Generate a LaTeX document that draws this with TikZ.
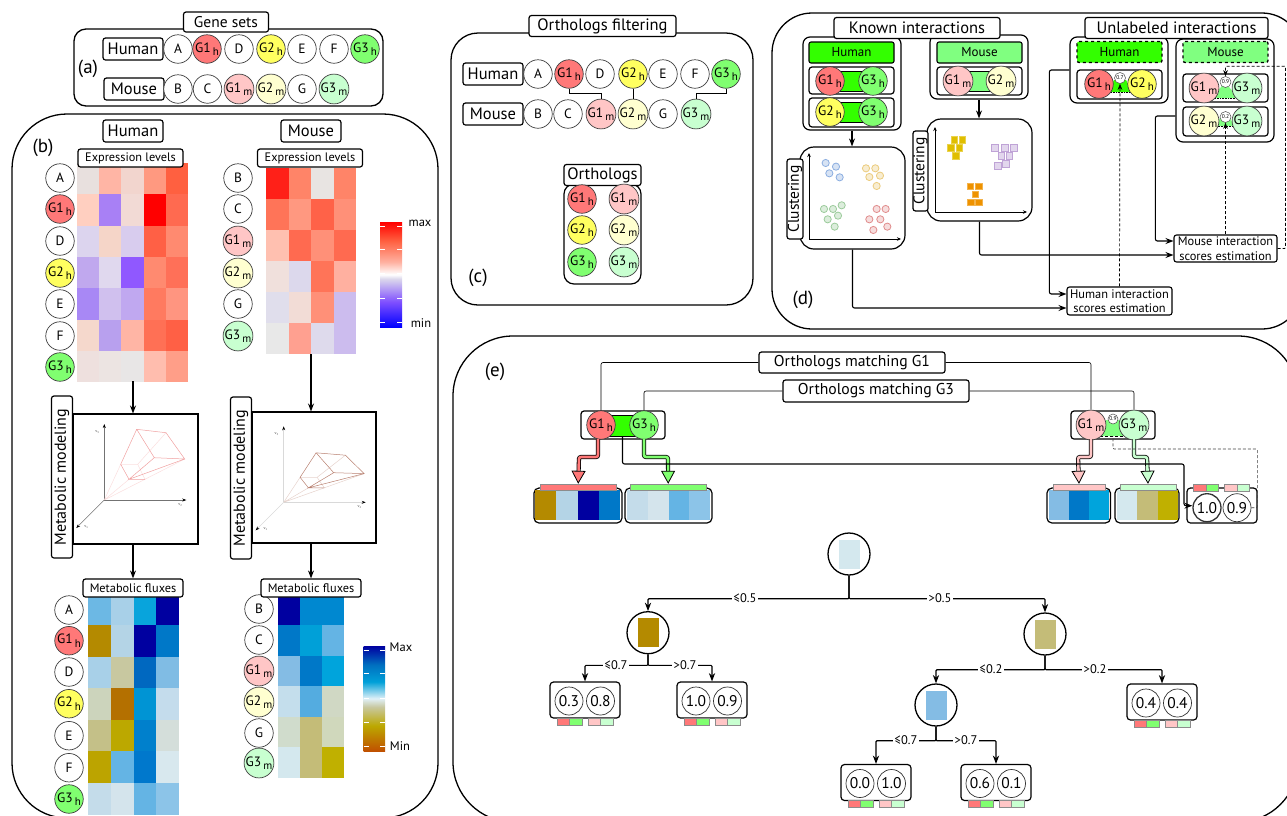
\documentclass[tikz,border=0pt]{standalone}
\usepackage{fontspec}
\usepackage{xcolor}
\usetikzlibrary{arrows.meta, positioning, calc, shapes.geometric}
\setmainfont{PT Sans}
\definecolor{hgone}{HTML}{FF7878}
\definecolor{hgtwo}{HTML}{FFFF60}
\definecolor{hgthree}{HTML}{80FF70}
\definecolor{mgone}{HTML}{FFC6C6}
\definecolor{mgtwo}{HTML}{FFFFD0}
\definecolor{mgthree}{HTML}{C8FFD0}
\definecolor{humanband}{HTML}{33FF00}
\definecolor{mouseband}{HTML}{80FF80}
\definecolor{polyhuman}{HTML}{F0A0A0}
\definecolor{polymouse}{HTML}{B88070}
\definecolor{rootfill}{HTML}{D4E8EE}
\definecolor{leftfill}{HTML}{B48A00}
\definecolor{rightfill}{HTML}{C4BC78}
\definecolor{lowfill}{HTML}{84BCE4}
\definecolor{exa}{HTML}{8050FF}
\definecolor{exb}{HTML}{DCD8EC}
\definecolor{exc}{HTML}{FFB0A0}
\definecolor{exd}{HTML}{FF6040}
\definecolor{fxa}{HTML}{C05000}
\definecolor{fxb}{HTML}{BCA800}
\definecolor{fxc}{HTML}{C8C8A0}
\definecolor{fxd}{HTML}{E0F0F8}
\definecolor{fxe}{HTML}{00A0D8}
\definecolor{fxf}{HTML}{0070C0}
\definecolor{fxg}{HTML}{0000A0}
\definecolor{dotblue}{HTML}{8CAEE0}
\definecolor{dotyellow}{HTML}{EBCB7C}
\definecolor{dotgreen}{HTML}{9CCB9C}
\definecolor{dotred}{HTML}{E08C8C}
\definecolor{sqyellow}{HTML}{E0BE00}
\definecolor{sqpurple}{HTML}{BFA3D6}
\definecolor{sqorange}{HTML}{EE9200}
\pgfdeclareverticalshading{exprbar}{100bp}{color(0bp)=(blue); color(25bp)=(blue);
  color(37bp)=(exa); color(48bp)=(exb); color(50bp)=(white);
  color(56bp)=(exc); color(66bp)=(exd); color(75bp)=(red); color(100bp)=(red)}
\pgfdeclareverticalshading{fluxbar}{100bp}{color(0bp)=(fxa); color(25bp)=(fxa);
  color(37bp)=(fxb); color(46bp)=(fxc); color(50bp)=(fxd);
  color(58bp)=(fxe); color(66bp)=(fxf); color(75bp)=(fxg); color(100bp)=(fxg)}
\newcommand{\gh}[1]{G#1\,\raisebox{-3.5pt}{\fontsize{11}{11}\selectfont h}}
\newcommand{\gm}[1]{G#1\,\raisebox{-3.5pt}{\fontsize{11}{11}\selectfont m}}
\newcommand{\heatmap}[5]{%
  \foreach \rowlist [count=\rw from 0] in {#5} {
    \foreach \hex [count=\cl from 0] in \rowlist {
      \definecolor{cellcol}{HTML}{\hex}
      \fill[cellcol] (#1+\cl*#3,#2+\rw*#4) rectangle ++(#3+.3,#4+.3);
    }
  }}
\newcommand{\polytope}[6]{%
  \draw[#5, line width=.5pt, -{Stealth[black,length=4pt,width=3pt]}] (#2,#3) -- ++(0,-76);
  \draw[#5, line width=.8pt, -{Stealth[black,length=4pt,width=3pt]}] (#2,#3) -- ++(82,0);
  \draw[#5, line width=.5pt, -{Stealth[black,length=4pt,width=3pt]}] (#2,#3) -- ++(-28,28);
  \node[vlabel] (#1vthree) at (#2-7,#3-68) {v\textsubscript{3}};
  \node[vlabel] (#1vtwo) at (#2+76,#3+5) {v\textsubscript{2}};
  \node[vlabel] (#1vone) at (#2-18,#3+27) {v\textsubscript{1}};
  \begin{scope}[shift={(#2,#3)}, yscale=#4, line width=.5pt]
    \draw[#6!35] (0,0) -- (16.4,-35.7) (0,0) -- (24.7,-20.7) (0,0) -- (40.7,-20.7) (0,0) -- (80.4,-41)
      (33.4,-35.7) -- (61.7,-67.3) (16.4,-35.7) -- (33.4,-35.7) -- (40.7,-20.7);
    \draw[#6] (32.4,-70.7) -- (61.7,-67.3) -- (80.4,-41) -- (50,-42.3) -- cycle
      (32.4,-70.7) -- (16.4,-35.7) -- (24.7,-20.7) -- (40.7,-20.7)
      (50,-42.3) -- (24.7,-20.7) -- (80.4,-41);
  \end{scope}}
\newcommand{\tagbars}[3]{%
  \node[tagcell=hgone] (#1ta) at (#2-22,#3) {};
  \node[tagcell=hgthree] (#1tb) at (#2-9.5,#3) {};
  \node[tagcell=mgone] (#1tc) at (#2+9,#3) {};
  \node[tagcell=mgthree] (#1td) at (#2+21.5,#3) {};}
\newcommand{\leafnode}[5]{%
  \node[leafbox] (#1) at (#2,#3) {};
  \node[scorenode] (#1a) at (#2-16,#3+1) {#4};
  \node[scorenode] (#1b) at (#2+15.5,#3+1) {#5};
  \tagbars{#1}{#2}{#3+21.5}}

\begin{document}
\begin{tikzpicture}[x=1pt, y=-1pt, >=Stealth,
    panel/.style={rectangle, draw, line width=1.3pt, inner sep=0pt},
    titlebox/.style={rectangle, rounded corners=2.5pt, draw, fill=white, line width=1.2pt, inner sep=0pt,
      minimum height=22pt, font=\fontsize{16.5}{16.5}\selectfont},
    smallbox/.style={titlebox, minimum height=18pt, font=\fontsize{12.3}{12.3}\selectfont},
    holder/.style={rectangle, rounded corners=7pt, draw, line width=1.2pt, inner sep=0pt},
    pairbox/.style={rectangle, rounded corners=3pt, draw, line width=1.2pt, inner sep=0pt, minimum width=85pt},
    gene/.style={circle, draw=black!75, fill=#1, line width=.7pt, inner sep=0pt, minimum size=28.5pt,
      font=\fontsize{13.5}{13.5}\selectfont},
    gene/.default=white,
    species/.style={rectangle, rounded corners=2pt, draw, fill=#1, line width=1.1pt, inner sep=0pt,
      minimum width=85pt, minimum height=21pt, font=\fontsize{13}{13}\selectfont},
    unknown/.style={species=#1, dashed, line width=1.3pt},
    band/.style={rectangle, draw, fill=#1, line width=.8pt, inner sep=0pt, minimum height=20pt},
    tinyscore/.style={circle, draw=black!70, fill=white, line width=.5pt, inner sep=0pt, minimum size=11pt,
      font=\fontsize{5.5}{5.5}\selectfont},
    flow/.style={->, line width=1.1pt, rounded corners=2pt},
    dashflow/.style={->, densely dashed, line width=.7pt, rounded corners=1pt},
    vlabel/.style={inner sep=0pt, text=black!70, font=\fontsize{4}{4}\selectfont},
    note/.style={inner sep=0pt, font=\fontsize{12.5}{12.5}\selectfont},
    panelmark/.style={inner sep=0pt, font=\fontsize{19}{19}\selectfont},
    matcharrow/.style={line width=.8pt, double=#1, double distance=2.6pt, rounded corners=2pt,
      -{Triangle[length=13pt, width=14pt, fill=#1, line width=.8pt]}},
    tagcell/.style={rectangle, draw=black!45, fill=#1, line width=.4pt, inner sep=0pt, minimum width=12.5pt, minimum height=7pt},
    leafbox/.style={rectangle, rounded corners=3.5pt, draw, fill=white, line width=1.2pt, inner sep=0pt,
      minimum width=70pt, minimum height=36pt},
    scorenode/.style={circle, draw=black!80, fill=white, line width=.7pt, inner sep=0pt, minimum size=28pt,
      font=\fontsize{15.5}{15.5}\selectfont},
    treenode/.style={circle, draw, fill=white, line width=1.3pt, inner sep=0pt, minimum size=42pt},
    treecell/.style={rectangle, fill=#1, inner sep=0pt, minimum width=21pt, minimum height=29pt},
    treeedge/.style={->, line width=1.2pt, rounded corners=1pt},
    treelabel/.style={fill=white, inner sep=1.5pt, font=\fontsize{12.5}{12.5}\selectfont},
    scorebox/.style={rectangle, rounded corners=2.5pt, draw, fill=white, line width=1.1pt, inner sep=0pt,
      align=center, font=\fontsize{12.4}{14.5}\selectfont},
  ]
    \useasboundingbox (0,0) rectangle (1287,815);

    % panels
    \node[panel, rounded corners=12pt, minimum width=309pt, minimum height=77pt] (panela) at (228.5,67.5) {};
    \node[panel, rounded corners=55pt, minimum width=426pt, minimum height=704pt] (panelb) at (225,466) {};
    \node[panel, rounded corners=27pt, minimum width=302pt, minimum height=272pt] (panelc) at (602,169) {};
    \node[panel, rounded corners=40pt, minimum width=530pt, minimum height=316pt] (paneld) at (1037,171) {};
    \node[panel, rounded corners=60pt, minimum width=845pt, minimum height=486pt] (panele) at (875.5,579) {};

    % (a)
    \node[titlebox, minimum width=85pt, minimum height=20pt, font=\fontsize{15.5}{15.5}\selectfont] (genesets) at (226,22) {Gene sets};
    \node[panelmark] (marka) at (88,69) {(a)};
    \node[titlebox, minimum width=60pt] (ahuman) at (133,49) {Human};
    \node[titlebox, minimum width=60pt] (amouse) at (134,89) {Mouse};
    \foreach \lab/\xx/\col [count=\i] in {A/178/white, {\gh{1}}/207/hgone, D/239/white, {\gh{2}}/271/hgtwo, E/302/white, F/334/white, {\gh{3}}/365/hgthree}
      \node[gene=\col] (ah\i) at (\xx,49) {\lab};
    \foreach \lab/\xx/\col [count=\i] in {B/178/white, C/207.5/white, {\gm{1}}/239/mgone, {\gm{2}}/271/mgtwo, G/302/white, {\gm{3}}/334/mgthree}
      \node[gene=\col] (am\i) at (\xx,89) {\lab};

    % (b)
    \node[panelmark] (markb) at (43,148) {(b)};
    \heatmap{77}{163}{22.2}{31.3}{{E8E0DE,FFB5A5,F2D5CE,FF9980,FF6040},{FFCFC0,A880F5,F2DAD5,FF0000,FF6A50},{DCD4EE,F5D5C8,D8CCEE,FF6045,FF8A70},{C0A8EE,E0D8EE,9058FF,FF8A70,FF7058},{A888F5,D0C0EE,C0A8F0,FF7A60,FF9580},{F5D8CC,B8A0EE,FFB5A5,FF7055,FF6045},{EEE0DE,ECE4E2,E8E6E6,FFBDAE,FF9E88}}
    \heatmap{266}{168}{22.5}{31}{{FF2018,FF8468,E8E4E2,FF8468},{FF7458,FF9880,FF6248,FF9078},{FFC0B0,FF6A50,FF9078,FF6A50},{F0E0DC,DCD8EC,FF7458,FFB0A0},{E0DEEC,F2DCD6,FF9078,CCBCEE},{E8E8E8,FFA090,DEDAEC,CCBCEE}}
    \heatmap{88}{593.4}{22.75}{31.6}{{6CB8E4,A8D0E8,08A4DC,0000A0},{B48A00,B4D4E6,0000A0,0078C8},{A8D0E8,C8C8A0,0068C0,80BCE4},{CCD4BC,B47000,0094D4,C4DCEC},{C4C088,BCA800,0080CC,D4DEDA},{BCA400,64B4E4,0078CC,D8E8EE},{C4DCEA,D4E4EC,64B4E4,8CC4E8}}
    \heatmap{278}{594.5}{22}{30.5}{{0000A0,0088D0,0088D0},{0078C8,00A0D8,64B4E4},{84BCE4,0078C8,00A4DC},{C4DEEC,54ACE0,D0D8C4},{D0DCCC,C4BC78,D0D8BC},{D4E8EE,C4BC78,C0B000}}
    \node[titlebox, minimum width=60pt] (bhuman) at (133,131) {Human};
    \node[titlebox, minimum width=60pt] (bmouse) at (311,131) {Mouse};
    \node[smallbox, minimum width=105pt] (exprhuman) at (130.5,158) {Expression levels};
    \node[smallbox, minimum width=105pt] (exprmouse) at (310,158) {Expression levels};
    \foreach \lab/\yy/\col [count=\i] in {A/178/white, {\gh{1}}/209/hgone, D/241/white, {\gh{2}}/273/hgtwo, E/304/white, F/336/white, {\gh{3}}/367/hgthree}
      \node[gene=\col] (bh\i) at (60,\yy) {\lab};
    \foreach \lab/\yy/\col [count=\i] in {B/178/white, C/209/white, {\gm{1}}/241/mgone, {\gm{2}}/273/mgtwo, G/304/white, {\gm{3}}/336/mgthree}
      \node[gene=\col] (bm\i) at (238,\yy) {\lab};
    \foreach \lab/\yy/\col [count=\i] in {A/610/white, {\gh{1}}/640.7/hgone, D/672/white, {\gh{2}}/703.7/hgtwo, E/735.7/white, F/767.7/white, {\gh{3}}/799/hgthree}
      \node[gene=\col] (fh\i) at (69,\yy) {\lab};
    \foreach \lab/\yy/\col [count=\i] in {B/609/white, C/640/white, {\gm{1}}/671/mgone, {\gm{2}}/702/mgtwo, G/733/white, {\gm{3}}/763/mgthree}
      \node[gene=\col] (fm\i) at (259,\yy) {\lab};

    \node[rectangle, draw, line width=1.1pt, inner sep=0pt, minimum width=125pt, minimum height=130pt] (modelhuman) at (135.5,479) {};
    \node[rectangle, draw, line width=1.1pt, inner sep=0pt, minimum width=124pt, minimum height=131pt] (modelmouse) at (314,477.5) {};
    \polytope{hp}{104.3}{500}{1}{black!55}{polyhuman}
    \polytope{mp}{283.7}{502.3}{.7}{black!15}{polymouse}
    \node[titlebox, rotate=90, minimum width=162pt, minimum height=21pt, font=\fontsize{16}{16}\selectfont] (modelinghuman) at (62,477) {Metabolic modeling};
    \node[titlebox, rotate=90, minimum width=162pt, minimum height=21pt, font=\fontsize{16}{16}\selectfont] (modelingmouse) at (241,478) {Metabolic modeling};
    \node[smallbox, minimum width=100pt] (fluxhuman) at (133,588) {Metabolic fluxes};
    \node[smallbox, minimum width=100pt] (fluxmouse) at (311,588) {Metabolic fluxes};
    \coordinate (heathuman) at (133,381);
    \coordinate (heatmouse) at (311,354);
    \draw[flow] (heathuman) -- (heathuman |- modelhuman.north);
    \draw[flow] (heatmouse) -- (heatmouse |- modelmouse.north);
    \draw[flow] (modelhuman.south -| fluxhuman.north) -- (fluxhuman.north);
    \draw[flow] (modelmouse.south -| fluxmouse.north) -- (fluxmouse.north);

    \shade[shading=exprbar] (380,222) rectangle (402,327);
    \shade[shading=fluxbar] (363.5,646) rectangle (385,751);
    \foreach \yy in {226,249,273,298,322} {
      \draw[white, line width=.6pt] (380,\yy) -- ++(5,0) (397,\yy) -- ++(5,0);
    }
    \foreach \yy in {650,673,698,722,746} {
      \draw[white, line width=.6pt] (363.5,\yy) -- ++(5,0) (380,\yy) -- ++(5,0);
    }
    \node[note] (maxexpr) at (420,223) {max};
    \node[note] (minexpr) at (421,323) {min};
    \node[note] (maxflux) at (401,647) {Max};
    \node[note] (minflux) at (400,746) {Min};

    % (c)
    \node[titlebox, minimum width=147pt, minimum height=21pt] (filtering) at (602.5,26) {Orthologs filtering};
    \node[panelmark] (markc) at (478,278) {(c)};
    \node[titlebox, minimum width=60pt] (chuman) at (493,74) {Human};
    \node[titlebox, minimum width=60pt] (cmouse) at (493,114) {Mouse};
    \foreach \lab/\xx/\col [count=\i] in {A/538/white, {\gh{1}}/569/hgone, D/600/white, {\gh{2}}/633/hgtwo, E/663/white, F/695/white, {\gh{3}}/726/hgthree}
      \node[gene=\col] (ch\i) at (\xx,74) {\lab};
    \foreach \lab/\xx/\col [count=\i] in {B/538/white, C/568/white, {\gm{1}}/601/mgone, {\gm{2}}/633/mgtwo, G/663/white, {\gm{3}}/696/mgthree}
      \node[gene=\col] (cm\i) at (\xx,114) {\lab};
    \draw[line width=1pt] (ch2.south) -- ++(0,5) -| (cm3.north);
    \draw[line width=1pt] (ch4.south) -- (cm4.north);
    \draw[line width=1pt] (ch7.south) -- ++(0,5) -| (cm6.north);
    \node[holder, rounded corners=10pt, minimum width=77pt, minimum height=100pt] (orthobox) at (602.5,234) {};
    \node[titlebox, minimum width=77pt, minimum height=21pt] (orthotitle) at (602.5,175) {Orthologs};
    \foreach \lab/\yy/\col [count=\i] in {{\gh{1}}/199/hgone, {\gh{2}}/230/hgtwo, {\gh{3}}/262/hgthree}
      \node[gene=\col] (oh\i) at (582,\yy) {\lab};
    \foreach \lab/\yy/\col [count=\i] in {{\gm{1}}/199/mgone, {\gm{2}}/230/mgtwo, {\gm{3}}/262/mgthree}
      \node[gene=\col] (om\i) at (624,\yy) {\lab};

    % (d)
    \node[panelmark] (markd) at (803,300) {(d)};
    \node[holder, minimum width=98pt, minimum height=93pt] (knownhuman) at (852,83.5) {};
    \node[holder, minimum width=98pt, minimum height=64pt] (knownmouse) at (979,67) {};
    \node[titlebox, minimum width=166pt, minimum height=21pt] (known) at (917,28) {Known interactions};
    \node[species=humanband] (khlabel) at (851.5,52.5) {Human};
    \node[species=mouseband] (kmlabel) at (979.5,52.5) {Mouse};
    \node[pairbox, minimum height=27pt] (khone) at (851.5,80.5) {};
    \node[pairbox, minimum height=29pt] (khtwo) at (851.5,112.5) {};
    \node[pairbox, minimum height=28pt] (kmone) at (979.5,81) {};
    \node[band=humanband, minimum width=43pt] (khoneband) at (851.5,81) {};
    \node[band=humanband, minimum width=43pt] (khtwoband) at (851.5,112) {};
    \node[band=mouseband, minimum width=43pt] (kmoneband) at (979.5,81) {};
    \node[gene=hgone] (khone1) at (830,81) {\gh{1}};
    \node[gene=hgthree] (khone2) at (873,81) {\gh{3}};
    \node[gene=hgtwo] (khtwo1) at (830,112) {\gh{2}};
    \node[gene=hgthree] (khtwo2) at (873,112) {\gh{3}};
    \node[gene=mgone] (kmone1) at (958,81) {\gm{1}};
    \node[gene=mgtwo] (kmone2) at (1001,81) {\gm{2}};

    \node[holder, rounded corners=14pt, minimum width=105pt, minimum height=102pt] (clusthuman) at (852.5,198) {};
    \node[holder, rounded corners=14pt, minimum width=105pt, minimum height=102pt] (clustmouse) at (979.5,170) {};
    \node[titlebox, rotate=90, minimum width=80pt, minimum height=16pt, font=\fontsize{15.5}{15.5}\selectfont] (clabelhuman) at (795,199) {Clustering};
    \node[titlebox, rotate=90, minimum width=80pt, minimum height=15pt, font=\fontsize{15.5}{15.5}\selectfont] (clabelmouse) at (920.5,171) {Clustering};
    \draw[flow] (knownhuman.south) -- (clusthuman.north -| knownhuman.south);
    \draw[flow] (knownmouse.south) -- (clustmouse.north -| knownmouse.south);
    \draw[<->, line width=.7pt, >={Stealth[length=4pt,width=3.5pt]}] (809,153) -- (809,239) -- (901,239);
    \draw[<->, line width=.7pt, >={Stealth[length=4pt,width=3.5pt]}] (935,127) -- (935,212) -- (1027,212);
    \begin{scope}[shift={(770,0)}, x=.3333pt, y=-.3333pt, line width=.8pt]
      \foreach \xx/\yy in {167/489,198/500,178/520,209/532}
        \draw[dotblue, fill=dotblue!35] (\xx,\yy) circle (3.6pt);
      \foreach \xx/\yy in {288/505,316/505,330/527,298/531,320/558}
        \draw[dotyellow, fill=dotyellow!35] (\xx,\yy) circle (3.6pt);
      \foreach \xx/\yy in {215/616,189/627,162/627,204/647,173/658,194/680}
        \draw[dotgreen, fill=dotgreen!35] (\xx,\yy) circle (3.6pt);
      \foreach \xx/\yy in {320/627,347/627,298/658,331/658,352/680,310/690}
        \draw[dotred, fill=dotred!30] (\xx,\yy) circle (3.6pt);
      \foreach \xx/\yy in {553/419,577/419,542/444,568/444,558/468}
        \draw[sqyellow!70, fill=sqyellow] (\xx-10,\yy-10) rectangle ++(20,20);
      \foreach \xx/\yy in {675/444,704/444,732/444,694/468,718/468,708/492,683/497}
        \draw[sqpurple, fill=sqpurple!45] (\xx-10,\yy-10) rectangle ++(20,20);
      \foreach \xx/\yy in {601/559,627/559,616/583,603/607,627/607}
        \draw[sqorange!70, fill=sqorange] (\xx-10,\yy-10) rectangle ++(20,20);
    \end{scope}

    \node[holder, minimum width=98pt, minimum height=66pt] (unhuman) at (1119,70) {};
    \node[holder, minimum width=98pt, minimum height=103pt] (unmouse) at (1225,90.5) {};
    \node[titlebox, minimum width=183pt, minimum height=21pt] (unlabeled) at (1176.5,28) {Unlabeled interactions};
    \node[unknown=humanband] (uhlabel) at (1119.5,52) {Human};
    \node[unknown=mouseband] (umlabel) at (1225.5,52) {Mouse};
    \node[pairbox, minimum height=29pt] (uhone) at (1119.5,84.5) {};
    \node[pairbox, minimum height=28pt] (umone) at (1225.5,88) {};
    \node[pairbox, minimum height=29pt] (umtwo) at (1225.5,121.5) {};
    \fill[humanband] (1108,92) -- (1132,92) -- (1126,80) -- (1114,80) -- cycle;
    \fill[mouseband] (1212,98) -- (1238,98) -- (1225,82) -- cycle;
    \fill[mouseband] (1216,126) -- (1234,126) -- (1230,118) -- (1220,118) -- cycle;
    \draw[densely dotted, line width=.6pt] (1108,92) -- (1132,92) (1212,98) -- (1238,98) (1216,126) -- (1234,126);
    \node[gene=hgone] (uhone1) at (1099,84) {\gh{1}};
    \node[gene=hgtwo] (uhone2) at (1142,84) {\gh{2}};
    \node[gene=mgone] (umone1) at (1204,88) {\gm{1}};
    \node[gene=mgthree] (umone2) at (1247,88) {\gm{3}};
    \node[gene=mgtwo] (umtwo1) at (1204,121) {\gm{2}};
    \node[gene=mgthree] (umtwo2) at (1247,121) {\gm{3}};
    \node[tinyscore] (uscoreh) at (1120,78) {0.7};
    \node[tinyscore] (uscoreone) at (1225.5,82) {0.9};
    \node[tinyscore] (uscoretwo) at (1225.5,117) {0.2};

    \node[scorebox, minimum width=105pt, minimum height=28pt] (humanscores) at (1119.5,301) {Human interaction\\scores estimation};
    \node[scorebox, minimum width=103pt, minimum height=27pt] (mousescores) at (1225.5,248.5) {Mouse interaction\\scores estimation};
    \draw[flow] (clusthuman.south) |- ([yshift=-7pt]humanscores.west);
    \draw[flow] (clustmouse.south) |- ([yshift=-6.5pt]mousescores.west);
    \draw[flow] (unhuman.west) -- ++(-20,0) |- ([yshift=7pt]humanscores.west);
    \draw[flow] ([yshift=-25.5pt]unmouse.west) -- ++(-20,0) |- ([yshift=7.5pt]mousescores.west);
    \draw[dashflow] (humanscores.north) -- (uscoreh.south);
    \draw[dashflow] (mousescores.north) -- (uscoretwo.south);
    \draw[dashflow] (mousescores.east) -- ++(8,0) |- ([yshift=10pt]uscoreone.north) -- (uscoreone.north);

    % (e)
    \node[panelmark] (marke) at (495,372) {(e)};
    \node[pairbox, minimum width=84pt, minimum height=28pt] (ehuman) at (623,425) {};
    \node[pairbox, minimum width=84pt, minimum height=28pt] (emouse) at (1113,425) {};
    \node[band=humanband, minimum width=43pt, minimum height=21pt] (ebandh) at (622.5,425.5) {};
    \fill[mouseband] (1100,436) -- (1126,436) -- (1120,420) -- (1106,420) -- cycle;
    \draw[densely dashed, line width=.7pt] (1100,436) -- (1126,436);
    \node[gene=hgone] (eh1) at (601,425) {\gh{1}};
    \node[gene=hgthree] (eh3) at (644,425) {\gh{3}};
    \node[gene=mgone] (em1) at (1091,425) {\gm{1}};
    \node[gene=mgthree] (em3) at (1134,425) {\gm{3}};
    \node[tinyscore, minimum size=10pt] (escore) at (1113,419) {0.9};
    \node[titlebox, minimum width=186pt, minimum height=21pt, font=\fontsize{15.7}{15.7}\selectfont] (matchone) at (852,362.5) {Orthologs matching G1};
    \node[titlebox, minimum width=186pt, minimum height=22pt, font=\fontsize{15.7}{15.7}\selectfont] (matchthree) at (876,391) {Orthologs matching G3};
    \draw[line width=.6pt, rounded corners=2pt] (matchone.west) -| (eh1.north);
    \draw[line width=.6pt, rounded corners=2pt] (matchone.east) -| (em1.north);
    \draw[line width=.6pt, rounded corners=2pt] (matchthree.west) -| (eh3.north);
    \draw[line width=.6pt, rounded corners=2pt] (matchthree.east) -| (em3.north);

    \node[holder, rounded corners=5pt, minimum width=88pt, minimum height=35pt] (rowone) at (578,505.5) {};
    \node[holder, rounded corners=5pt, minimum width=87pt, minimum height=35pt] (rowtwo) at (668.5,505.5) {};
    \node[holder, rounded corners=5pt, minimum width=63.5pt, minimum height=35pt] (rowthree) at (1078.7,505.5) {};
    \node[holder, rounded corners=5pt, minimum width=64pt, minimum height=35pt] (rowfour) at (1147,505.5) {};
    \heatmap{535}{490}{21.25}{30}{{B48A00,B4D4E6,0000A0,0078C8}}
    \heatmap{627}{490}{20.75}{30}{{C4DCEA,D4E4EC,64B4E4,8CC4E8}}
    \heatmap{1049}{490}{20}{30}{{84BCE4,0078C8,00A4DC}}
    \heatmap{1116.5}{490}{20.5}{30}{{D4E8EE,C4BC78,C0B000}}
    \node[tagcell=hgone, minimum width=75.5pt, minimum height=6pt] (barone) at (578.2,487) {};
    \node[tagcell=hgthree, minimum width=75.5pt, minimum height=6pt] (bartwo) at (668.2,487) {};
    \node[tagcell=mgone, minimum width=52pt, minimum height=6pt] (barthree) at (1079,487) {};
    \node[tagcell=mgthree, minimum width=56pt, minimum height=6pt] (barfour) at (1148,487) {};
    \node[leafbox, minimum height=35pt] (resultbox) at (1222,505.5) {};
    \node[scorenode, line width=1.3pt] (resulta) at (1207,507.7) {1.0};
    \node[scorenode] (resultb) at (1237,507.7) {0.9};
    \tagbars{result}{1221.5}{487.5}
    \draw[matcharrow=hgone] (598,439) -- (598,457) -- (579,457) -- (barone.north);
    \draw[matcharrow=hgthree] (644,439) -- (644,457) -- (668,457) -- (bartwo.north);
    \draw[matcharrow=mgone] (1091,439) -- (1091,457) -- (1078,457) -- (barthree.north);
    \draw[matcharrow=mgthree] (1134,439) -- (1134,457) -- (1147,457) -- (barfour.north);
    \coordinate (bandturn) at (1184,464);
    \draw[flow] (ebandh.south) |- (bandturn) |- ([yshift=2pt]resulta.west);
    \draw[densely dashed, line width=.6pt, black!75, rounded corners=1pt] (resultb.east) -- ++(6,0) |- (1113,449) -- (1113,436);

    % decision tree
    \node[treenode] (treeroot) at (849,554) {};
    \node[treecell=rootfill] (rootcell) at (849,554) {};
    \node[treenode] (treeleft) at (648,632.7) {};
    \node[treecell=leftfill] (leftcell) at (648,632.7) {};
    \node[treenode] (treeright) at (1045,634) {};
    \node[treecell=rightfill] (rightcell) at (1045,634) {};
    \node[treenode] (treelow) at (936,705) {};
    \node[treecell=lowfill] (lowcell) at (936,705) {};
    \leafnode{leafa}{585}{700}{0.3}{0.8}
    \leafnode{leafb}{712}{700}{1.0}{0.9}
    \leafnode{leafc}{1162}{702}{0.4}{0.4}
    \leafnode{leafd}{876}{782.5}{0.0}{1.0}
    \leafnode{leafe}{996}{782.5}{0.6}{0.1}
    \draw[treeedge] (treeroot.south) -- ++(0,23) -| (treeleft.north);
    \draw[treeedge] (treeroot.south) -- ++(0,23) -| (treeright.north);
    \draw[treeedge] (treeleft.south) -- ++(0,11) -| (leafa.north);
    \draw[treeedge] (treeleft.south) -- ++(0,11) -| (leafb.north);
    \draw[treeedge] (treeright.south) -- ++(0,14) -| (treelow.north);
    \draw[treeedge] (treeright.south) -- ++(0,14) -| (leafc.north);
    \draw[treeedge] (treelow.south) -- ++(0,14) -| (leafd.north);
    \draw[treeedge] (treelow.south) -- ++(0,14) -| (leafe.north);
    \node[treelabel] (splita) at (745,598) {≤0.5};
    \node[treelabel] (splitb) at (940,598) {>0.5};
    \node[treelabel] (splitc) at (616,665) {≤0.7};
    \node[treelabel] (splitd) at (685,665) {>0.7};
    \node[treelabel] (splite) at (991,669) {≤0.2};
    \node[treelabel] (splitf) at (1095,669) {>0.2};
    \node[treelabel] (splitg) at (906,740) {≤0.7};
    \node[treelabel] (splith) at (966,740) {>0.7};
  \end{tikzpicture}
\end{document}
